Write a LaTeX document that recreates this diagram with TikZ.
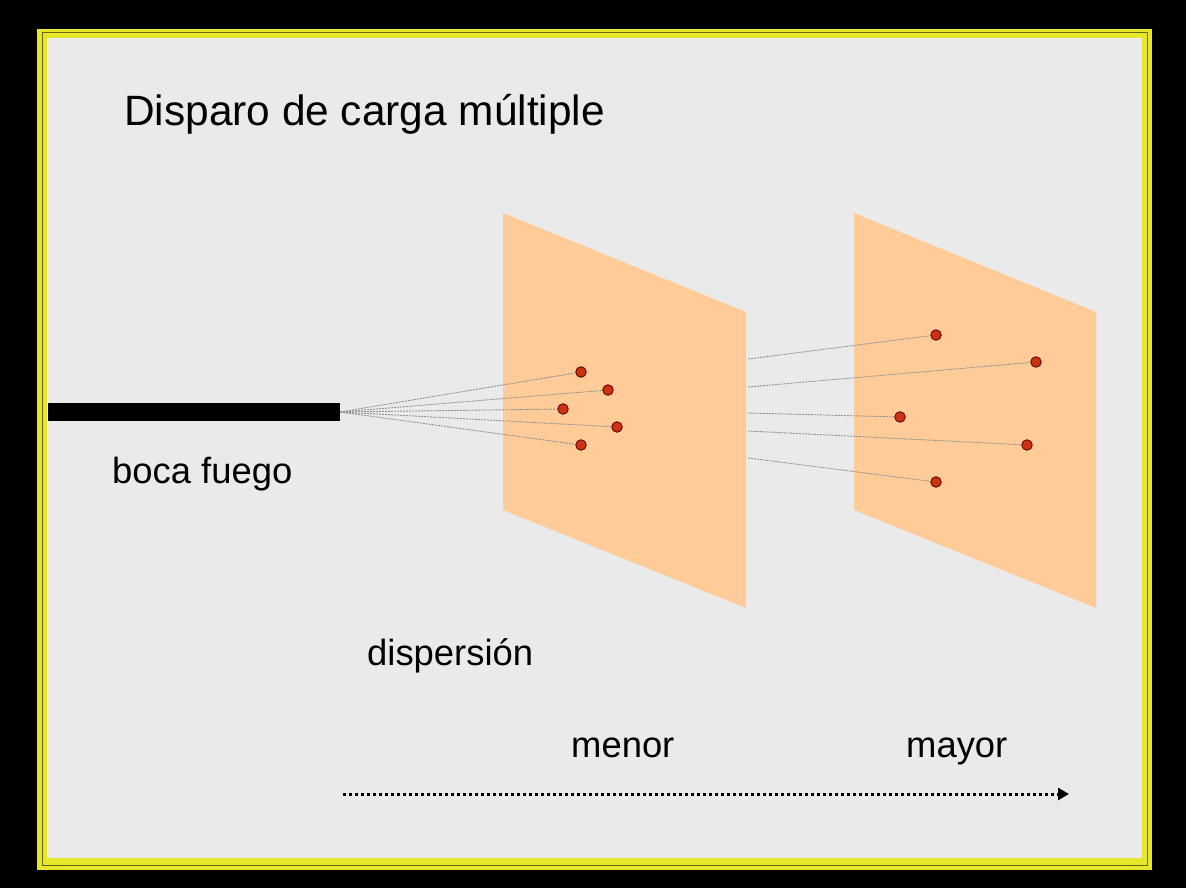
\documentclass[tikz,border=0pt]{standalone}
\usepackage{fontspec}
\setmainfont{Liberation Sans}
\usetikzlibrary{arrows.meta}
\definecolor{fondo}{HTML}{EAEAEA}
\definecolor{marco}{HTML}{E6E62A}
\definecolor{panel}{HTML}{FFCC99}
\definecolor{plomo}{HTML}{CC3311}
\tikzset{
  perdigon/.style={circle,draw=black!60!red,fill=plomo,inner sep=0pt,minimum size=10.5pt,line width=0.9pt},
  trayecto/.style={gray!85,line width=0.9pt,dash pattern=on 2pt off 1pt},
  rotulo/.style={anchor=base west,inner sep=0pt,font=\fontsize{36.4}{42}\selectfont}
}

\begin{document}
\begin{tikzpicture}[x=1pt,y=-1pt]
  % fondo y marco
  \fill[black] (0,0) rectangle (1186,888);
  \fill[marco] (37,29) rectangle (1152,870);
  \draw[black!55!marco,line width=1pt] (42,33) rectangle (1147,865);
  \fill[fondo] (47,38) rectangle (1142,858);
  % blancos
  \fill[panel] (503,213) -- (746,312) -- (746,608) -- (503,510) -- cycle;
  \fill[panel] (854,213) -- (1096,312) -- (1096,608) -- (854,510) -- cycle;
  % boca de fuego
  \fill[black] (48,403) rectangle (340,421);
  \coordinate (boca) at (340,412);
  % impactos cercanos
  \foreach \n/\x/\y in {1/581/372,2/608/390,3/563/409,4/617/427,5/581/445} {
    \node[perdigon] (a\n) at (\x,\y) {};
    \draw[trayecto] (boca) -- (a\n);
  }
  % impactos lejanos
  \foreach \n/\x/\y/\s in {1/936/335/359,2/1036/362/387,3/900/417/413,4/1027/445/431,5/936/482/458} {
    \coordinate (s\n) at (748,\s);
    \node[perdigon] (b\n) at (\x,\y) {};
    \draw[trayecto] (s\n) -- (b\n);
  }
  % textos
  \node[rotulo,font=\fontsize{42.4}{50}\selectfont] (titulo) at (124,126) {Disparo de carga múltiple};
  \node[rotulo] (fuego) at (112,483) {boca fuego};
  \node[rotulo] (disp) at (367,665) {dispersión};
  \node[rotulo] (menor) at (571,757) {menor};
  \node[rotulo] (mayor) at (906,757) {mayor};
  % flecha
  \coordinate (ini) at (343,794);
  \coordinate (fin) at (1069,794);
  \draw[line width=3pt,dash pattern=on 3pt off 3pt,-{Triangle[length=11pt,width=12pt]}] (ini) -- (fin);
\end{tikzpicture}
\end{document}
